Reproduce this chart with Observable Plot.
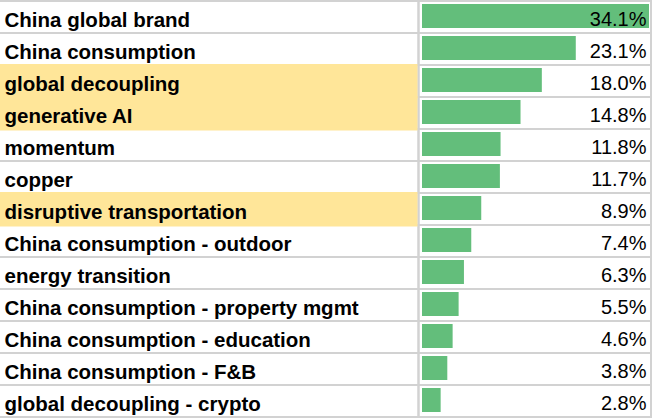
<!DOCTYPE html>
<html>
<head>
<meta charset="utf-8">
<script src="https://cdn.jsdelivr.net/npm/d3@7"></script>
<script src="https://cdn.jsdelivr.net/npm/@observablehq/plot@0.6"></script>
<style>
  html, body { margin: 0; padding: 0; background: #ffffff; }
  #chart svg { display: block; }
</style>
</head>
<body>
<div id="chart"></div>
<script>
const names = [
  "China global brand",
  "China consumption",
  "global decoupling",
  "generative AI",
  "momentum",
  "copper",
  "disruptive transportation",
  "China consumption - outdoor",
  "energy transition",
  "China consumption - property mgmt",
  "China consumption - education",
  "China consumption - F&B",
  "global decoupling - crypto"
];
const values = [34.1, 23.1, 18.0, 14.8, 11.8, 11.7, 8.9, 7.4, 6.3, 5.5, 4.6, 3.8, 2.8];
const highlighted = ["global decoupling", "generative AI", "disruptive transportation"];

const rows = names.map((name, i) => ({name, value: values[i], hl: highlighted.includes(name)}));

const gridColor = "#d2d2d2";
const font = "'Liberation Sans', Arial, sans-serif";

const chart = Plot.plot({
  width: 654,
  height: 420,
  marginLeft: 422,
  marginRight: 5,
  marginTop: 1,
  marginBottom: 3,
  x: {domain: [0, d3.max(values)], axis: null},
  y: {domain: names, axis: null, padding: 0},
  style: {fontFamily: font, background: "#ffffff", overflow: "visible"},
  marks: [
    // left (label) cells
    Plot.barX(rows, {y: "name", x1: 0, x2: 0, insetLeft: -424, insetRight: 3.5, fill: "none", stroke: gridColor, strokeWidth: 2}),
    // right (bar) cells
    Plot.barX(rows, {y: "name", x1: 0, x2: 0, insetLeft: -3.5, insetRight: -229, fill: "none", stroke: gridColor, strokeWidth: 2}),
    // highlight fill
    Plot.barX(rows.filter(d => d.hl), {y: "name", x1: 0, x2: 0, insetLeft: -424, insetRight: 4.5, insetTop: -1, insetBottom: -1.5, fill: "#ffe699"}),
    // data bars
    Plot.barX(rows, {y: "name", x: "value", fill: "#63be7b", insetTop: 3, insetBottom: 5}),
    // labels
    Plot.text(rows, {y: "name", text: "name", frameAnchor: "left", textAnchor: "start", dx: -418, dy: 2.5, fontSize: 20.5, fontWeight: "bold", fill: "#000000"}),
    // values
    Plot.text(rows, {y: "name", text: d => d.value.toFixed(1) + "%", frameAnchor: "right", textAnchor: "end", dx: -3, dy: 2.5, fontSize: 20, fill: "#000000"})
  ]
});
document.getElementById("chart").appendChild(chart);
</script>
</body>
</html>
